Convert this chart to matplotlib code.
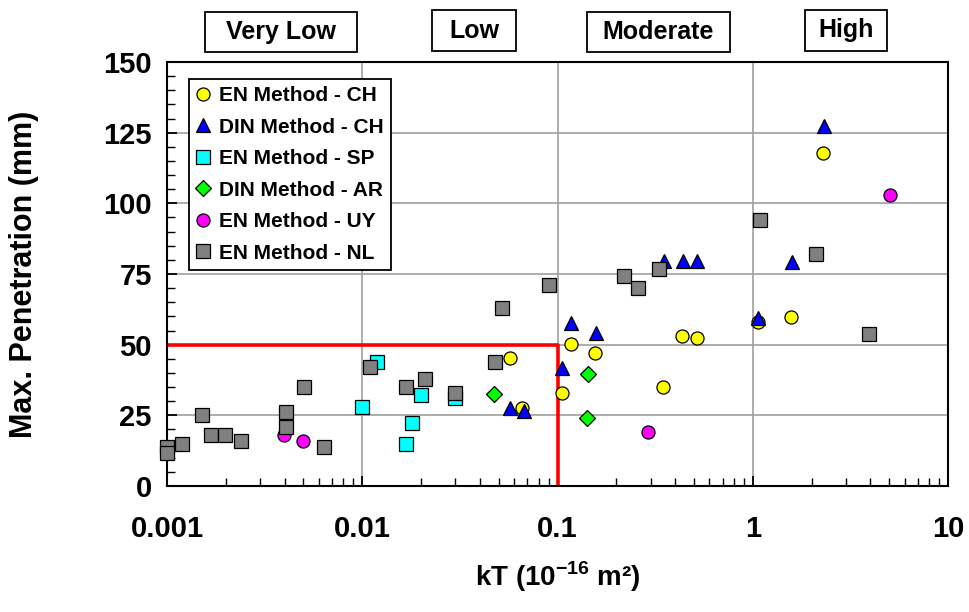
import numpy as np
import matplotlib
matplotlib.use('Agg')
import matplotlib.pyplot as plt
from matplotlib.patches import Rectangle

plt.rcParams['font.family'] = ['Liberation Sans', 'DejaVu Sans']
plt.rcParams['font.weight'] = 'bold'
plt.rcParams['mathtext.fontset'] = 'custom'
plt.rcParams['mathtext.bf'] = 'Liberation Sans:bold'
plt.rcParams['mathtext.rm'] = 'Liberation Sans:bold'

# kT (1e-16 m2) vs max penetration (mm)
en_ch_x = [0.057, 0.117, 0.155, 0.105, 0.066, 0.345, 0.433, 0.516, 2.29, 1.57, 1.06]
en_ch_y = [45.3, 50.3, 47.1, 32.9, 27.6, 35.0, 53.1, 52.4, 117.9, 59.8, 58.0]

din_ch_x = [0.117, 0.157, 0.106, 0.057, 0.067, 0.35, 0.438, 0.52, 2.31, 1.59, 1.06]
din_ch_y = [57.5, 54.2, 41.8, 27.6, 26.5, 79.5, 79.5, 79.5, 127.4, 79.3, 59.5]

sp_x = [0.0119, 0.0100, 0.0200, 0.0180, 0.0168, 0.0300]
sp_y = [44.0, 28.1, 32.2, 22.2, 14.9, 31.3]

ar_x = [0.0471, 0.1436, 0.141]
ar_y = [32.5, 39.6, 24.0]

uy_x = [0.00398, 0.0050, 0.292, 5.02]
uy_y = [18.0, 15.9, 19.1, 103.0]

nl_x = [0.001, 0.001, 0.0012, 0.00151, 0.00169, 0.00198, 0.00239, 0.00406, 0.00406,
        0.00506, 0.00634, 0.0109, 0.0168, 0.021, 0.030, 0.0477, 0.0518, 0.090,
        0.219, 0.259, 0.330, 1.09, 2.10, 3.95]
nl_y = [13.8, 11.8, 14.9, 25.1, 18.0, 18.0, 15.9, 26.1, 21.0,
        34.9, 13.9, 42.0, 34.9, 37.9, 32.9, 44.0, 62.9, 71.2,
        74.3, 70.2, 76.8, 94.2, 82.0, 53.8]

limit_x = [0.001, 0.1, 0.1]
limit_y = [50, 50, 0]

classes = ['Very Low', 'Low', 'Moderate', 'High']
class_boxes = [(205, 12, 357, 52), (432, 10, 516, 51), (587, 12, 730, 52), (805, 10, 887, 51)]

fig = plt.figure(figsize=(9.7, 6.12), dpi=100)
ax = fig.add_axes([167 / 970, 1 - 486 / 612, (948 - 167) / 970, (486 - 62) / 612])

ax.plot(limit_x, limit_y, color='#ff0000', lw=2.6, zorder=2)

mk = dict(linestyle='none', markeredgecolor='black', markeredgewidth=0.9, zorder=3, clip_on=False)
ax.plot(en_ch_x, en_ch_y, 'o', ms=9.4, markerfacecolor='#ffff00', label='EN Method - CH', **mk)
ax.plot(din_ch_x, din_ch_y, '^', ms=10.3, markerfacecolor='#0000ff', label='DIN Method - CH', **mk)
ax.plot(sp_x, sp_y, 's', ms=9.6, markerfacecolor='#00ffff', label='EN Method - SP', **mk)
ax.plot(ar_x, ar_y, 'D', ms=8.0, markerfacecolor='#00ff00', label='DIN Method - AR', **mk)
ax.plot(uy_x, uy_y, 'o', ms=9.4, markerfacecolor='#ff00ff', label='EN Method - UY', **mk)
ax.plot(nl_x, nl_y, 's', ms=9.6, markerfacecolor='#808080', label='EN Method - NL', **mk)

ax.set_xscale('log')
ax.set_xlim(0.001, 10)
ax.set_ylim(0, 150)
ax.set_xticks([0.001, 0.01, 0.1, 1, 10])
ax.set_xticklabels(['0.001', '0.01', '0.1', '1', '10'])
ax.set_yticks(np.arange(0, 151, 25))
ax.set_yticks(np.arange(0, 151, 5), minor=True)
ax.grid(True, which='major', color='#a0a0a0', lw=1.2, zorder=0)
ax.set_axisbelow(True)
ax.tick_params(which='both', direction='in', top=False, right=False, labelsize=21)
ax.tick_params(which='major', length=7, width=1.3)
ax.tick_params(which='minor', length=6, width=1.0)
ax.tick_params(axis='x', pad=21)
ax.tick_params(axis='y', pad=11)
for s in ax.spines.values():
    s.set_linewidth(1.5)

ax.set_xlabel(r'kT (10$^{\mathbf{-16}}$ m²)', fontsize=20, fontweight='bold')
ax.xaxis.set_label_coords(0.5, (486 - 577) / 424)
ax.xaxis.label.set_va('center')
ax.set_ylabel('Max. Penetration (mm)', fontsize=22, fontweight='bold')
ax.yaxis.set_label_coords((24 - 167) / 781, 0.5)
ax.yaxis.label.set_va('center')

leg = ax.legend(loc='upper left', bbox_to_anchor=(0.028, 0.96), borderaxespad=0,
                fontsize=15, handlelength=0.7, handletextpad=0.4, labelspacing=0.6,
                borderpad=0.35, fancybox=False, framealpha=1, edgecolor='black')
leg.get_frame().set_linewidth(1.3)
leg.set_zorder(5)

W, H = 970, 612
for name, (x0, y0, x1, y1) in zip(classes, class_boxes):
    fig.patches.append(Rectangle((x0 / W, 1 - y1 / H), (x1 - x0) / W, (y1 - y0) / H,
                                 transform=fig.transFigure, facecolor='white',
                                 edgecolor='black', lw=1.3))
    fig.text((x0 + x1) / 2 / W, 1 - (y0 + y1) / 2 / H, name, ha='center', va='center',
             fontsize=18, fontweight='bold')

fig.savefig('out.png', dpi=100)
